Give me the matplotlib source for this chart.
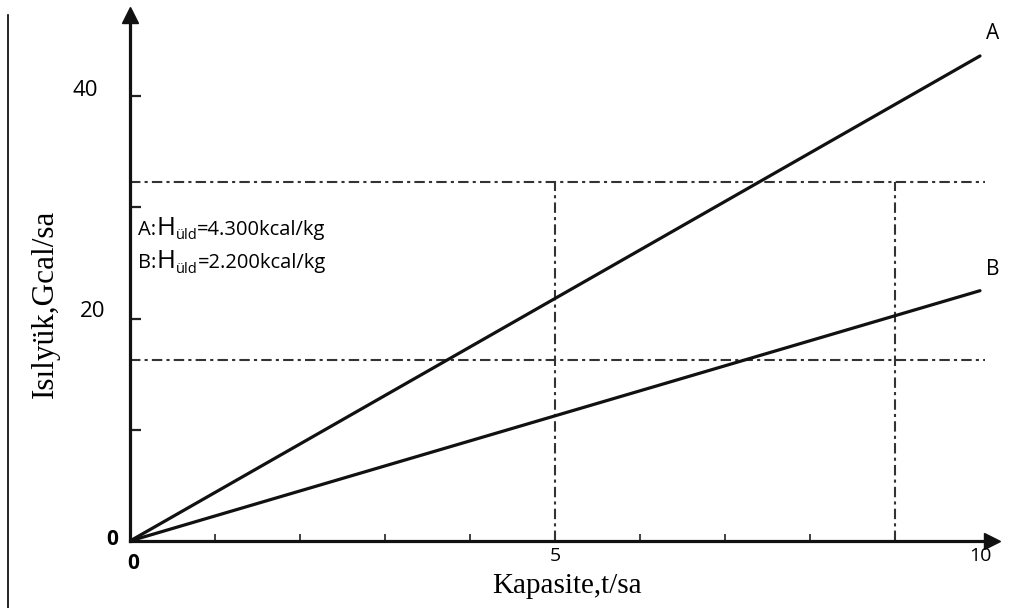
import matplotlib
matplotlib.use("Agg")
import matplotlib.pyplot as plt
from matplotlib.lines import Line2D

# Data
cap = [0, 10]                 # Kapasite, t/sa
load_a = [0, 43.6]            # A: H=4.300 kcal/kg
load_b = [0, 22.5]            # B: H=2.200 kcal/kg
guide_y = [32.3, 16.3]        # horizontal dash-dot guides
guide_x = [5, 9]              # vertical dash-dot guides
guide_x_top = 32.3
x_minor = [1, 2, 3, 4, 6, 7, 8, 9]
y_minor = [10, 20, 30, 40]
x_labels = ["0", "5", "10"]
x_label_pos = [0, 5, 10]
y_labels = ["0", "20", "40"]
y_label_pos = [0, 20, 40]

W, H = 1023, 608
fig = plt.figure(figsize=(W / 100, H / 100), dpi=100)
fig.patch.set_facecolor("white")

# axes placed so that origin sits where the scan has it
x0, y0 = 130, 541
px_x, px_y = 85.0, 11.125
ax = fig.add_axes([x0 / W, (H - y0) / H, (992 - x0) / W, (y0 - 15) / H])
ax.set_xlim(0, (992 - x0) / px_x)
ax.set_ylim(0, (y0 - 15) / px_y)
ax.patch.set_alpha(0)

for s in ["top", "right"]:
    ax.spines[s].set_visible(False)
for s in ["left", "bottom"]:
    ax.spines[s].set_linewidth(2.3)
    ax.spines[s].set_color("#111111")

# arrow heads
ax.plot(1, 0, ">", color="#111111", ms=11, transform=ax.get_yaxis_transform(), clip_on=False)
ax.plot(0, 1, "^", color="#111111", ms=11, transform=ax.get_xaxis_transform(), clip_on=False)

ax.set_xticks([])
ax.set_yticks([])
ax.set_xticks(x_minor, minor=True)
ax.set_yticks(y_minor, minor=True)
ax.tick_params(axis="x", which="minor", direction="in", length=5, width=1.3, color="#333333",
               labelbottom=False)
ax.tick_params(axis="y", which="minor", direction="in", length=8, width=1.6, color="#222222",
               labelleft=False)

# guide lines
ds = (0, (5, 2, 1.5, 2))
for gy in guide_y:
    ax.plot([0, 10.06], [gy, gy], color="#333333", lw=1.5, linestyle=ds, clip_on=False)
for gx in guide_x:
    ax.plot([gx, gx], [0, guide_x_top], color="#333333", lw=1.5, linestyle=ds)

# the two load lines
ax.plot(cap, load_a, color="#111111", lw=2.3, solid_capstyle="round")
ax.plot(cap, load_b, color="#111111", lw=2.3, solid_capstyle="round")

sans = "Open Sans"
ax.text(10.15, 45.6, "A", fontsize=15, family=sans, ha="center", va="center")
ax.text(10.15, 24.4, "B", fontsize=15, family=sans, ha="center", va="center")

# tick labels
ax.text(x_label_pos[0] + 0.04, -2.0, x_labels[0], fontsize=15, family=sans,
        fontweight="bold", ha="center", va="center")
for xp, lab in zip(x_label_pos[1:], x_labels[1:]):
    ax.text(xp, -1.35, lab, fontsize=14, family=sans, ha="center", va="center")
ax.text(-0.21, y_label_pos[0] + 0.1, y_labels[0], fontsize=15, family=sans,
        fontweight="bold", ha="center", va="center")
ax.text(-0.44, y_label_pos[1] + 0.6, y_labels[1], fontsize=16, family=sans,
        ha="center", va="center", zorder=5,
        bbox=dict(facecolor="white", edgecolor="none", pad=5))
ax.text(-0.53, y_label_pos[2] + 0.5, y_labels[2], fontsize=16, family=sans,
        ha="center", va="center")

# annotation with subscript
for row, (pre, val) in enumerate([("A:", "=4.300kcal/kg"), ("B:", "=2.200kcal/kg")]):
    yy = 27.5 - row * 3.0
    t1 = ax.text(0.1, yy, pre, fontsize=14.5, family=sans, va="baseline", ha="left")
    t2 = ax.annotate("H", xy=(1, yy), xycoords=(t1, "data"), fontsize=18.5,
                     family=sans, va="baseline", ha="left")
    t3 = ax.annotate("üld", xy=(1, yy), xycoords=(t2, "data"), xytext=(0, -3),
                     textcoords="offset points", fontsize=10.5, family=sans,
                     va="baseline", ha="left")
    ax.annotate(val, xy=(1, yy), xycoords=(t3, "data"), fontsize=14.5,
                family=sans, va="baseline", ha="left")

# axis titles
serif = "Liberation Serif"
fig.text(45 / W, 1 - 304 / H, "Isılyük,Gcal/sa", rotation=90, fontsize=22.5,
         family=serif, ha="center", va="center")
fig.text(567 / W, 1 - 586 / H, "Kapasite,t/sa", fontsize=21, family=serif,
         ha="center", va="center")

# page border on the left of the scan
fig.add_artist(Line2D([8 / W, 8 / W], [0, 1 - 15 / H], color="black", lw=1.2))

fig.savefig("out.png", dpi=100)
